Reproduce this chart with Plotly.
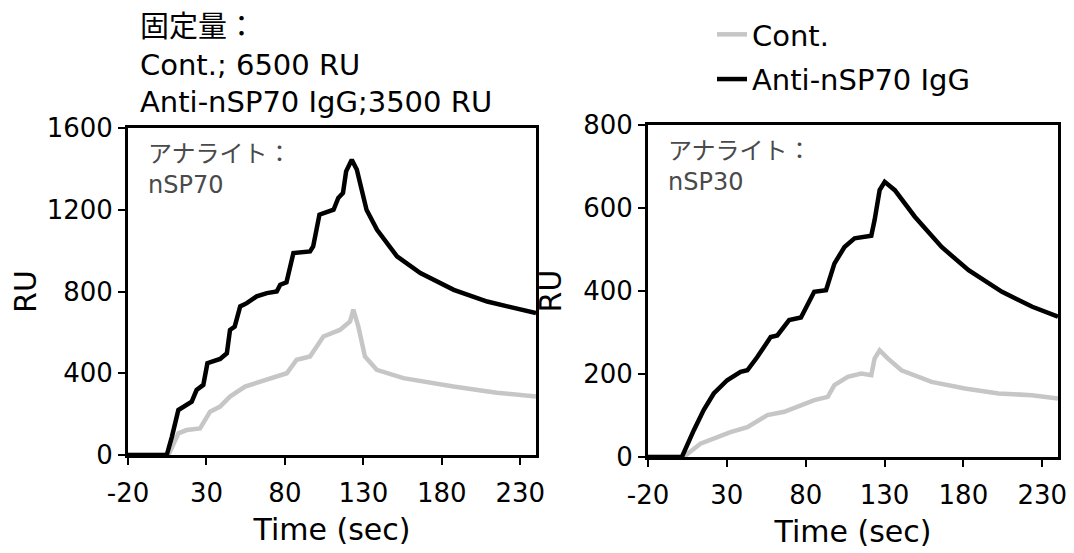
import plotly.graph_objects as go

# nSP70 analyte (left panel)
t70_ctrl = [-20, 5.8, 12.1, 17.4, 25.9, 32.3, 38.7, 45, 54.6, 64.2, 74.8, 81.2, 87.5, 96,
            104.5, 115, 121.5, 123.6, 126.8, 131, 138.5, 155.5, 187.4, 215, 240]
ru70_ctrl = [0, 0, 106, 122, 130, 212, 237, 286, 335, 359, 384, 400, 466, 482,
             580, 612, 653, 711, 628, 482, 417, 376, 335, 305, 286]

t70_igg = [-20, 4.7, 8, 12.1, 20.6, 23.7, 28, 30.6, 38.7, 43, 45, 48, 51.5, 55.7, 62,
           68.5, 74.8, 77, 81, 85.4, 96, 98, 102, 111, 114, 117, 119, 122.6, 125.8,
           132, 138.7, 151.4, 166.3, 187.6, 208.9, 240]
ru70_igg = [0, 0, 90, 220, 261, 318, 343, 449, 470, 498, 612, 628, 727, 743, 776,
            792, 800, 833, 845, 988, 996, 1021, 1176, 1200, 1258, 1282, 1388, 1445, 1397,
            1200, 1102, 972, 890, 808, 751, 694]

# nSP30 analyte (right panel)
t30_ctrl = [-20, 2.6, 13.2, 21.7, 32.3, 43, 55.7, 66.4, 74.9, 85.5, 94, 98.2, 106.7,
            115.2, 121.6, 123.7, 126.9, 132.2, 140.7, 159.8, 181, 202.3, 223.5, 240]
ru30_ctrl = [0, 0, 32, 44, 60, 72, 101, 109, 121, 137, 145, 173, 193,
             201, 197, 237, 257, 237, 209, 181, 165, 153, 149, 141]

t30_igg = [-20, 1.5, 9, 15.3, 21.7, 30.2, 38.7, 43, 49.3, 57.8, 62, 69.5, 77, 85.4,
           92.9, 98.2, 104.6, 111, 121.6, 123.7, 126.9, 130.1, 136.5, 149.2, 166.2,
           183.3, 204.5, 223.7, 240]
ru30_igg = [0, 0, 64, 113, 153, 185, 205, 209, 241, 289, 293, 330, 336, 398,
            402, 466, 506, 527, 533, 571, 643, 663, 643, 579, 506,
            450, 398, 362, 338]

x_ticks = [-20, 30, 80, 130, 180, 230]
x_labels = ["-20", "30", "80", "130", "180", "230"]
gray = "#c6c6c6"
font = "DejaVu Sans"
jp_font = "DejaVu Sans, Noto Sans CJK JP"

# the page body has an 8px margin: the figure starts at (8, 8) in the window
W, H = 1066, 545

fig = go.Figure()
fig.add_trace(go.Scatter(x=t70_ctrl, y=ru70_ctrl, mode="lines", name="Cont.",
                         line=dict(color=gray, width=4.5), legendgroup="a"))
fig.add_trace(go.Scatter(x=t70_igg, y=ru70_igg, mode="lines", name="Anti-nSP70 IgG",
                         line=dict(color="black", width=4.5), legendgroup="b"))
fig.add_trace(go.Scatter(x=t30_ctrl, y=ru30_ctrl, mode="lines", showlegend=False,
                         line=dict(color=gray, width=4.5), xaxis="x2", yaxis="y2"))
fig.add_trace(go.Scatter(x=t30_igg, y=ru30_igg, mode="lines", showlegend=False,
                         line=dict(color="black", width=4.5), xaxis="x2", yaxis="y2"))

axis_style = dict(showline=True, linecolor="black", linewidth=3, mirror=True,
                  ticks="outside", ticklen=7, tickwidth=2, tickcolor="black",
                  showgrid=False, zeroline=False, automargin=False,
                  tickfont=dict(size=26, color="black", family=font))

fig.update_layout(
    width=W, height=H,
    margin=dict(l=0, r=0, t=0, b=0),
    plot_bgcolor="white", paper_bgcolor="white",
    font=dict(family=font, size=25, color="black"),
    xaxis=dict(domain=[120 / W, 528 / W], range=[-20, 240], tickvals=x_ticks, ticktext=x_labels,
               ticklabelstandoff=6, title=dict(text="Time (sec)", standoff=12), **axis_style),
    yaxis=dict(domain=[1 - 447 / H, 1 - 120 / H], range=[0, 1600],
               tickvals=[0, 400, 800, 1200, 1600],
               title=dict(text="RU", standoff=2), **axis_style),
    xaxis2=dict(domain=[640 / W, 1050 / W], range=[-20, 240], tickvals=x_ticks, ticktext=x_labels,
                anchor="y2", ticklabelstandoff=6,
                title=dict(text="Time (sec)", standoff=12), **axis_style),
    yaxis2=dict(domain=[1 - 449 / H, 1 - 117 / H], range=[0, 800],
                tickvals=[0, 200, 400, 600, 800], anchor="x2",
                title=dict(text="RU", standoff=13), **axis_style),
    legend=dict(x=704 / W, y=1 - 1 / H, xanchor="left", yanchor="top", tracegroupgap=4,
                traceorder="grouped", font=dict(size=29, family=font),
                bgcolor="rgba(0,0,0,0)"),
    showlegend=True,
)

fig.add_annotation(text="固定量：<br>Cont.; 6500 RU<br>Anti-nSP70 IgG;3500 RU",
                   xref="paper", yref="paper", x=130 / W, y=1.0, xanchor="left", yanchor="top",
                   align="left", showarrow=False,
                   font=dict(size=29, family=jp_font, color="black"))
for xd, yd, label in [("x domain", "y domain", "nSP70"), ("x2 domain", "y2 domain", "nSP30")]:
    fig.add_annotation(text="アナライト：<br>" + label,
                       xref=xd, yref=yd, x=0.045, y=0.97, xanchor="left", yanchor="top",
                       align="left", showarrow=False,
                       font=dict(size=24, family=jp_font, color="#4a4a4a"))

fig.write_html("out.html")
